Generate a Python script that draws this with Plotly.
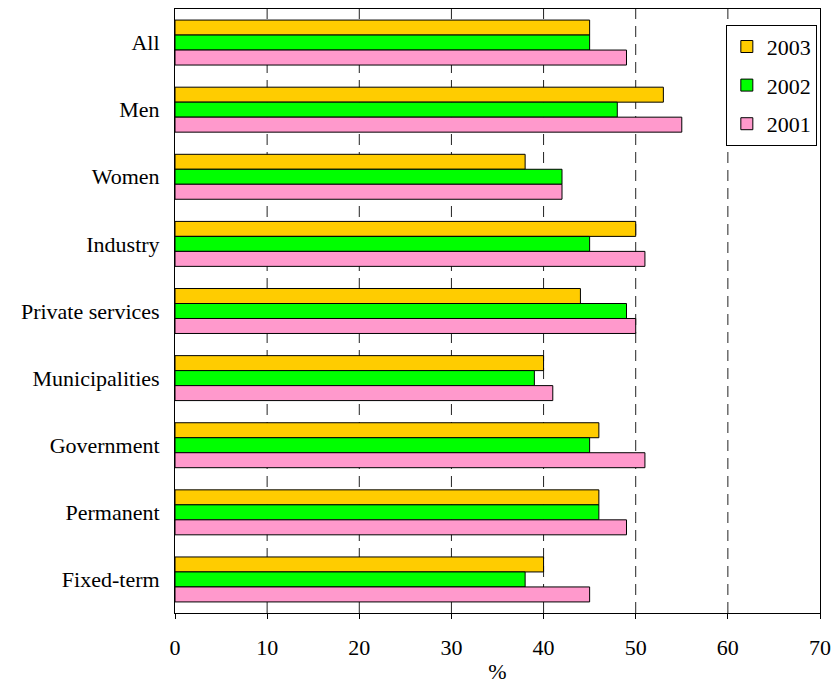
import plotly.graph_objects as go

categories = ["All", "Men", "Women", "Industry", "Private services",
              "Municipalities", "Government", "Permanent", "Fixed-term"]
v2003 = [45, 53, 38, 50, 44, 40, 46, 46, 40]
v2002 = [45, 48, 42, 45, 49, 39, 45, 46, 38]
v2001 = [49, 55, 42, 51, 50, 41, 51, 49, 45]
series_names = ["2003", "2002", "2001"]
colors = ["#FFCC00", "#00FF00", "#FF99CC"]
x_ticks = [0, 10, 20, 30, 40, 50, 60, 70]

font_family = "Times New Roman, Liberation Serif, serif"

fig = go.Figure()
for name, vals, col in zip(series_names, [v2003, v2002, v2001], colors):
    fig.add_trace(go.Bar(
        y=categories, x=vals, name=name, orientation="h",
        marker=dict(color=col, line=dict(color="black", width=1)),
        legendgroup=name,
    ))

# dashed vertical gridlines (drawn beneath the bars)
for t in x_ticks[1:-1]:
    fig.add_shape(type="line", xref="x", yref="paper", x0=t, x1=t, y0=0, y1=1,
                  line=dict(color="#222222", width=1, dash="11px,7px"),
                  layer="below")

fig.update_layout(
    width=832, height=684,
    margin=dict(l=175, r=12, t=9, b=71, autoexpand=False),
    paper_bgcolor="white", plot_bgcolor="white",
    barmode="group", bargap=0.33, bargroupgap=0,
    font=dict(family=font_family, size=22, color="black"),
    legend=dict(
        x=0.854, y=0.974, xanchor="left", yanchor="top",
        bordercolor="black", borderwidth=1, bgcolor="white",
        font=dict(size=22, family=font_family, color="black"),
        traceorder="grouped", tracegroupgap=7,
        itemwidth=30,
    ),
    showlegend=True,
)
fig.update_xaxes(
    range=[0, 70], tickvals=x_ticks, ticktext=[str(t) for t in x_ticks],
    showgrid=False,
    showline=True, linecolor="black", linewidth=1, mirror=True,
    ticks="outside", ticklen=5, tickcolor="black", ticklabelstandoff=10,
    tickfont=dict(size=22, family=font_family), zeroline=False,
    title=dict(text="%", font=dict(size=22, family=font_family), standoff=15),
    automargin=False,
)
fig.update_yaxes(
    autorange="reversed",
    showline=True, linecolor="black", linewidth=1, mirror=True,
    showgrid=False, ticks="", ticklabelstandoff=10,
    tickfont=dict(size=22, family=font_family),
    automargin=False,
)

fig.write_html(
    "out.html",
    config={"displayModeBar": False},
    post_script="document.body.style.margin='0';document.body.style.overflow='hidden';",
)
